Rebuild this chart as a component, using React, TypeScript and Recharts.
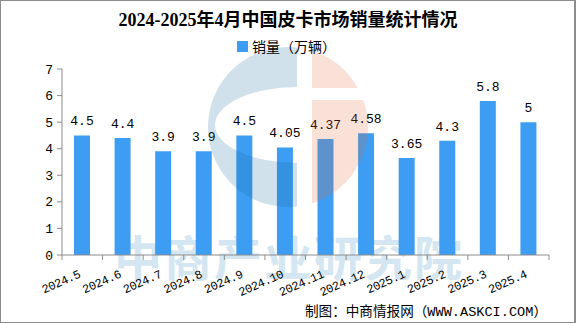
import { BarChart, Bar, XAxis, YAxis, LabelList } from 'recharts';

const months = [
  '2024.5', '2024.6', '2024.7', '2024.8', '2024.9', '2024.10',
  '2024.11', '2024.12', '2025.1', '2025.2', '2025.3', '2025.4',
];
const sales = [4.5, 4.4, 3.9, 3.9, 4.5, 4.05, 4.37, 4.58, 3.65, 4.3, 5.8, 5];
const yTicks = [0, 1, 2, 3, 4, 5, 6, 7];

const chartData = months.map((m, i) => ({ month: m, sales: sales[i] }));

const MONO = '"Liberation Mono", "Noto Sans CJK SC", monospace';
const AXIS_GRAY = '#8c8c8c';

// x tick: lines sit on the band edges, label rotated
const MonthTick = (props: any) => {
  const { x, y, payload, index } = props;
  const half = payload && payload.offset ? payload.offset : 20.3;
  const tx = x - 1;
  const ty = y + 22;
  return (
    <g>
      <line x1={x - half} y1={y} x2={x - half} y2={y + 5} stroke={AXIS_GRAY} />
      {index === months.length - 1 && (
        <line x1={x + half} y1={y} x2={x + half} y2={y + 5} stroke={AXIS_GRAY} />
      )}
      <text
        x={tx}
        y={ty}
        textAnchor="end"
        transform={`rotate(-24, ${tx}, ${ty})`}
        fontSize={12}
        letterSpacing={-0.4}
        fontFamily={MONO}
        fill="#000"
      >
        {payload.value}
      </text>
    </g>
  );
};

// background logo shapes (decoration only)
const cx = 288;
const cy = 127;
const r = 80;
const blueEdge = 297;
const orangeEdge = 312;
const yAt = (x: number) => Math.sqrt(r * r - (x - cx) * (x - cx));
const xAt = (y: number) => cx + Math.sqrt(r * r - (y - cy) * (y - cy));

const bTop = cy - yAt(blueEdge);
const bBot = cy + yAt(blueEdge);
const bluePath =
  `M ${blueEdge} ${bTop} A ${r} ${r} 0 1 0 ${blueEdge} ${bBot} ` +
  `L ${blueEdge} 163 A 82 38 0 0 1 ${blueEdge} 87 Z`;

const oTop = cy - yAt(orangeEdge);
const oBot = cy + yAt(orangeEdge);
const orangePath =
  `M ${orangeEdge} ${oTop} A ${r} ${r} 0 0 1 ${xAt(88)} 88 L ${orangeEdge} 88 Z ` +
  `M ${orangeEdge} 100 L ${xAt(100)} 100 A ${r} ${r} 0 0 1 ${orangeEdge} ${oBot} Z`;

export default function App() {
  return (
    <div
      style={{
        position: 'absolute',
        left: 0,
        top: 0,
        width: 576,
        height: 323,
        boxSizing: 'border-box',
        border: '1px solid #8c8c8c',
        borderRight: '2px solid #8c8c8c',
        background: '#fff',
        overflow: 'hidden',
      }}
    >
      <div
        style={{
          position: 'absolute',
          left: 0,
          top: 226,
          width: 576,
          textAlign: 'center',
          fontFamily: '"Noto Sans CJK SC", sans-serif',
          fontWeight: 700,
          fontSize: 48,
          letterSpacing: 2,
          lineHeight: '56px',
          color: '#d4e6f1',
        }}
      >
        中商产业研究院
      </div>

      <div style={{ position: 'absolute', left: -1, top: -1 }}>
        <BarChart
          width={576}
          height={323}
          data={chartData}
          margin={{ top: 69, right: 27, bottom: 0, left: 0 }}
        >
          <XAxis
            dataKey="month"
            height={68}
            stroke={AXIS_GRAY}
            tickLine={false}
            tickSize={0}
            tickMargin={0}
            interval={0}
            tick={<MonthTick />}
          />
          <YAxis
            width={62}
            domain={[0, 7]}
            ticks={yTicks}
            stroke={AXIS_GRAY}
            tickSize={5}
            tickMargin={4}
            tick={{ fill: '#000', fontSize: 13, fontFamily: MONO }}
          />
          <Bar dataKey="sales" fill="#3d9df2" barSize={16} isAnimationActive={false}>
            <LabelList
              dataKey="sales"
              position="top"
              offset={10}
              fill="#000"
              fontSize={13}
              fontFamily={MONO}
            />
          </Bar>
        </BarChart>
      </div>

      <svg
        width={576}
        height={323}
        style={{ position: 'absolute', left: -1, top: -1, pointerEvents: 'none' }}
      >
        <path d={bluePath} fill="#1a6a9a" fillOpacity={0.2} fillRule="evenodd" />
        <path d={orangePath} fill="#e8693a" fillOpacity={0.2} />
      </svg>

      <div
        style={{
          position: 'absolute',
          left: -1,
          top: 8,
          width: 576,
          textAlign: 'center',
          fontFamily: '"Liberation Serif", "Noto Sans CJK SC", serif',
          fontWeight: 700,
          fontSize: 18,
          lineHeight: '22px',
          color: '#000',
        }}
      >
        2024-2025年4月中国皮卡市场销量统计情况
      </div>

      <div
        style={{
          position: 'absolute',
          left: 236,
          top: 36,
          display: 'flex',
          alignItems: 'center',
          fontFamily: '"Noto Sans CJK SC", sans-serif',
          fontSize: 14,
          lineHeight: '18px',
          color: '#000',
        }}
      >
        <span
          style={{ display: 'inline-block', width: 11, height: 11, background: '#3d9df2', marginRight: 4 }}
        />
        销量（万辆）
      </div>

      <div
        style={{
          position: 'absolute',
          left: 304,
          top: 303,
          fontFamily: MONO,
          fontSize: 13.6,
          lineHeight: '18px',
          color: '#000',
          whiteSpace: 'nowrap',
        }}
      >
        制图：中商情报网（WWW.ASKCI.COM）
      </div>
    </div>
  );
}
